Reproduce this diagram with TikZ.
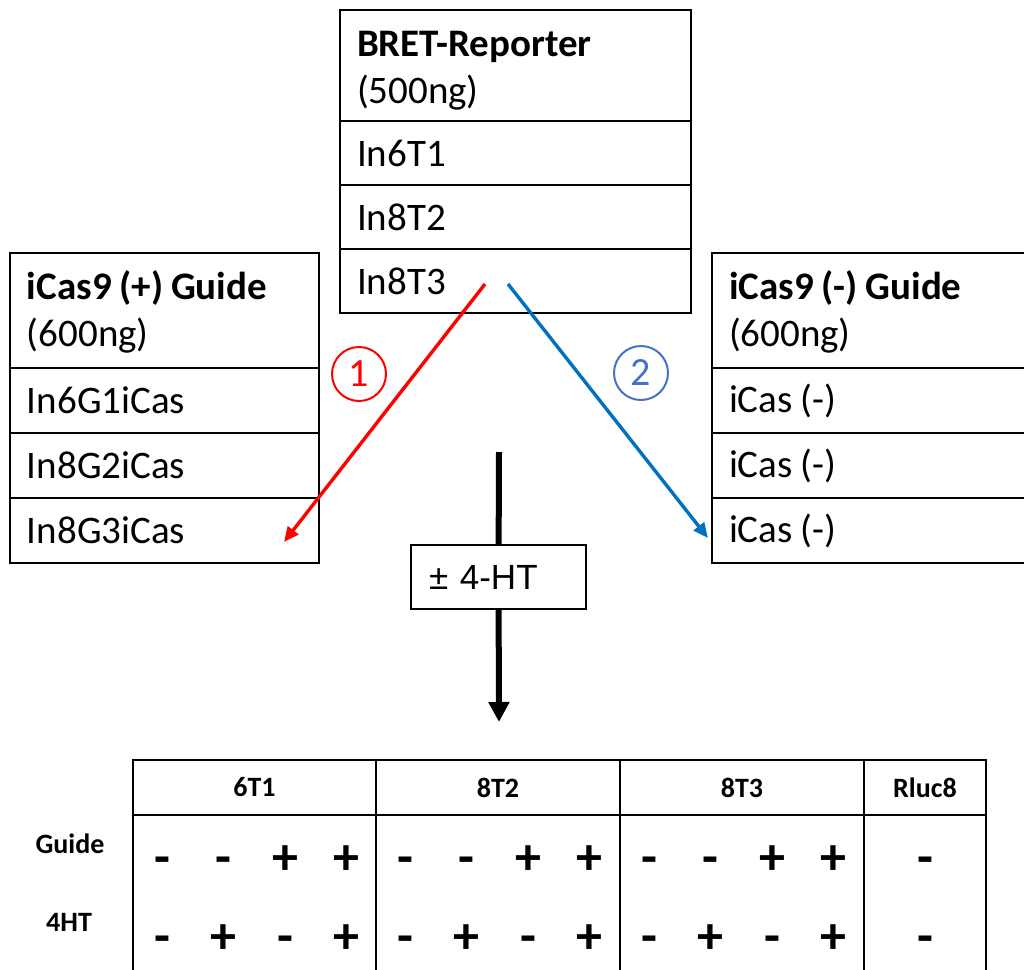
\documentclass[tikz,border=0pt]{standalone}
\usepackage{fontspec}
\setmainfont{Carlito}
\newfontfamily\htfont{Liberation Sans}
\usepackage{xcolor}
\definecolor{colorGuide}{RGB}{255,0,0}
\definecolor{colorNoGuide}{RGB}{0,112,192}
\definecolor{colorNoGuideNum}{RGB}{68,114,196}
\usetikzlibrary{arrows.meta, positioning}
\tikzset{
  cell/.style={draw, line width=1.6pt, outer sep=0pt, inner xsep=17pt, inner ysep=0pt,
    text width=#1, align=left, anchor=north west, font=\fontsize{39}{47}\selectfont,
    execute at begin node={\spaceskip=0.2em\relax}},
  head/.style={text height=#1, text depth=56pt},
  hcell/.style={draw, line width=2.2pt, outer sep=0pt, minimum height=55pt,
    anchor=north west, font=\bfseries\fontsize{28}{34}\selectfont},
  bcell/.style={draw, line width=2.2pt, outer sep=0pt, minimum height=240pt},
  sign/.style={inner sep=0pt, anchor=base, font=\bfseries\fontsize{52}{52}\selectfont},
  rowlabel/.style={font=\bfseries\fontsize{28}{34}\selectfont},
  num/.style={circle, draw=#1, text=#1, line width=2pt, minimum size=54pt, inner sep=0pt,
    font=\fontsize{40}{44}\selectfont}
}

\begin{document}
\begin{tikzpicture}[x=1pt, y=-1pt, node distance=0pt]
\useasboundingbox (0,0) rectangle (1024,969);

% reporter
\node[cell=317pt, head=37pt, minimum height=111pt] (bret) at (340,10) {\textbf{BRET-Reporter}\\(500ng)};
\node[cell=317pt, minimum height=64pt, below=of bret] (t1) {In6T1};
\node[cell=317pt, minimum height=64pt, below=of t1] (t2) {In8T2};
\node[cell=317pt, minimum height=64pt, below=of t2] (t3) {In8T3};

% guides
\node[cell=275pt, head=33pt, minimum height=115pt] (plus) at (10,253) {\textbf{iCas9 (+) Guide}\\(600ng)};
\node[cell=275pt, minimum height=65pt, below=of plus] (g1) {In6G1iCas};
\node[cell=275pt, minimum height=65pt, below=of g1] (g2) {In8G2iCas};
\node[cell=275pt, minimum height=65pt, below=of g2] (g3) {In8G3iCas};

\node[cell=290pt, head=33pt, minimum height=115pt] (minus) at (712,253) {\textbf{iCas9 (-) Guide}\\(600ng)};
\node[cell=290pt, minimum height=65pt, below=of minus] (m1) {iCas (-)};
\node[cell=290pt, minimum height=65pt, below=of m1] (m2) {iCas (-)};
\node[cell=290pt, minimum height=65pt, below=of m2] (m3) {iCas (-)};

% transfections
\coordinate (redfrom) at (485,284);
\coordinate (redto) at (284,542);
\coordinate (bluefrom) at (508,284);
\coordinate (blueto) at (708,538);
\draw[colorGuide, line width=3.4pt, -{Triangle[length=15pt,width=13pt]}] (redfrom) -- (redto);
\draw[colorNoGuide, line width=3.4pt, -{Triangle[length=15pt,width=13pt]}] (bluefrom) -- (blueto);
\node[num=colorGuide] (one) at (359,374) {1};
\node[num=colorNoGuideNum] (two) at (641,373) {2};

% treatment
\node[draw, line width=1.6pt, outer sep=0pt, minimum width=175pt, minimum height=64pt,
  text width=139pt, inner xsep=18pt, align=left, font=\htfont\fontsize{35}{42}\selectfont]
  (ht) at (498.5,577) {± 4-HT};
\coordinate (htin) at (499,452);
\coordinate (htout) at (499,722);
\draw[line width=6pt] (htin) -- (ht);
\draw[line width=6pt, -{Triangle[length=20pt,width=20pt]}] (ht) -- (htout);

% plate layout
\foreach \name/\txt/\x/\w in {a/6T1/133/243, b/8T2/376/244, c/8T3/620/244, d/Rluc8/864/122} {
  \node[hcell, minimum width=\w pt] (h\name) at (\x,760) {\txt};
  \node[bcell, minimum width=\w pt, below=of h\name] (b\name) {};
}
\node[rowlabel] (guide) at (70,844) {Guide};
\node[rowlabel] (fourht) at (69,922) {4HT};
\foreach \sec/\xs in {a/133, b/376, c/620} {
  \foreach \g/\h [count=\k from 0] in {-/-, -/+, +/-, +/+} {
    \node[sign] (g\sec\k) at (\xs+29+61.5*\k, 874) {\g};
    \node[sign] (f\sec\k) at (\xs+29+61.5*\k, 953) {\h};
  }
}
\node[sign] (gd) at (925,874) {-};
\node[sign] (fd) at (925,953) {-};
\end{tikzpicture}
\end{document}
